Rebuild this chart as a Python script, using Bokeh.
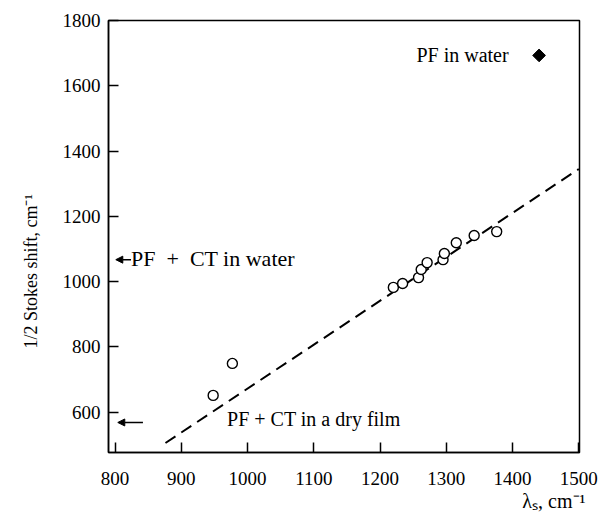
import math
from bokeh.plotting import figure
from bokeh.models import Range1d, Label, Arrow, NormalHead, FixedTicker, Title
from bokeh.embed import file_html
from bokeh.resources import INLINE

# ---- data ----
circle_x = [948, 977, 1220, 1234, 1258, 1262, 1271, 1295, 1297, 1315, 1342, 1376]
circle_y = [651, 749, 982, 994, 1012, 1037, 1058, 1067, 1086, 1119, 1141, 1153]
pf_water_x = [1440]
pf_water_y = [1693]
fit_x = [876, 1500]
fit_y = [505, 1345]
x_ticks = [800, 900, 1000, 1100, 1200, 1300, 1400, 1500]
y_ticks = [600, 800, 1000, 1200, 1400, 1600, 1800]
pfct_water_y = 1067
pfct_film_y = 568

FONT = "Liberation Serif"

p = figure(width=600, height=517,
           x_range=Range1d(790, 1501), y_range=Range1d(476, 1800),
           output_backend="svg", toolbar_location=None,
           min_border_left=108, min_border_right=21,
           min_border_top=20, min_border_bottom=65)

p.xgrid.visible = False
p.ygrid.visible = False
p.outline_line_color = "black"
p.outline_line_width = 1.5
p.background_fill_color = "white"
p.border_fill_color = "white"

for ax, ticks in ((p.xaxis, x_ticks), (p.yaxis, y_ticks)):
    ax.ticker = FixedTicker(ticks=ticks)
    ax.major_tick_in = 10
    ax.major_tick_out = 0
    ax.minor_tick_in = 0
    ax.minor_tick_out = 0
    ax.major_tick_line_width = 1.5
    ax.major_tick_line_color = "black"
    ax.axis_line_width = 1.5
    ax.axis_line_color = "black"
    ax.major_label_text_font = FONT
    ax.major_label_text_font_size = "19px"
    ax.major_label_text_color = "black"
p.xaxis.major_label_standoff = 19
p.yaxis.major_label_standoff = 8

# fitted dashed line
p.line(fit_x, fit_y, line_color="black", line_width=2, line_dash="12 7")

# open circles
p.scatter(circle_x, circle_y, marker="circle", size=10, line_color="black",
          line_width=1.4, fill_color="white")

# PF in water (filled diamond)
p.scatter(pf_water_x, pf_water_y, marker="square", size=9, angle=math.pi / 4,
          line_color="black", fill_color="black")

# annotations
p.add_layout(Label(x=1394, y=pf_water_y[0], text="PF in water",
                   text_font=FONT, text_font_size="20px", text_color="black",
                   text_align="right", text_baseline="middle"))

p.add_layout(Arrow(x_start=824, y_start=pfct_water_y, x_end=801, y_end=pfct_water_y,
                   line_color="black", line_width=1.5,
                   end=NormalHead(size=7, fill_color="black", line_color="black")))
p.add_layout(Label(x=824, y=pfct_water_y + 3, text="PF\u2002+\u2002CT in water",
                   text_font=FONT, text_font_size="22px", text_color="black",
                   text_align="left", text_baseline="middle"))

p.add_layout(Arrow(x_start=842, y_start=pfct_film_y, x_end=804, y_end=pfct_film_y,
                   line_color="black", line_width=1.5,
                   end=NormalHead(size=7, fill_color="black", line_color="black")))
p.add_layout(Label(x=969, y=580, text="PF + CT in a dry film",
                   text_font=FONT, text_font_size="20px", text_color="black",
                   text_align="left", text_baseline="middle"))

# axis titles
p.add_layout(Title(text="1/2 Stokes shift, cm\u207b\u00b9", align="left", offset=104,
                   standoff=36, vertical_align="middle", text_font=FONT,
                   text_font_size="18px", text_font_style="normal",
                   text_color="black"), "left")
p.add_layout(Title(text="\u03bb\u209b, cm\u207b\u00b9", align="right", offset=-6,
                   standoff=0, text_font=FONT, text_font_size="20px",
                   text_font_style="normal", text_color="black"), "below")

open("out.html", "w").write(file_html(p, INLINE))
